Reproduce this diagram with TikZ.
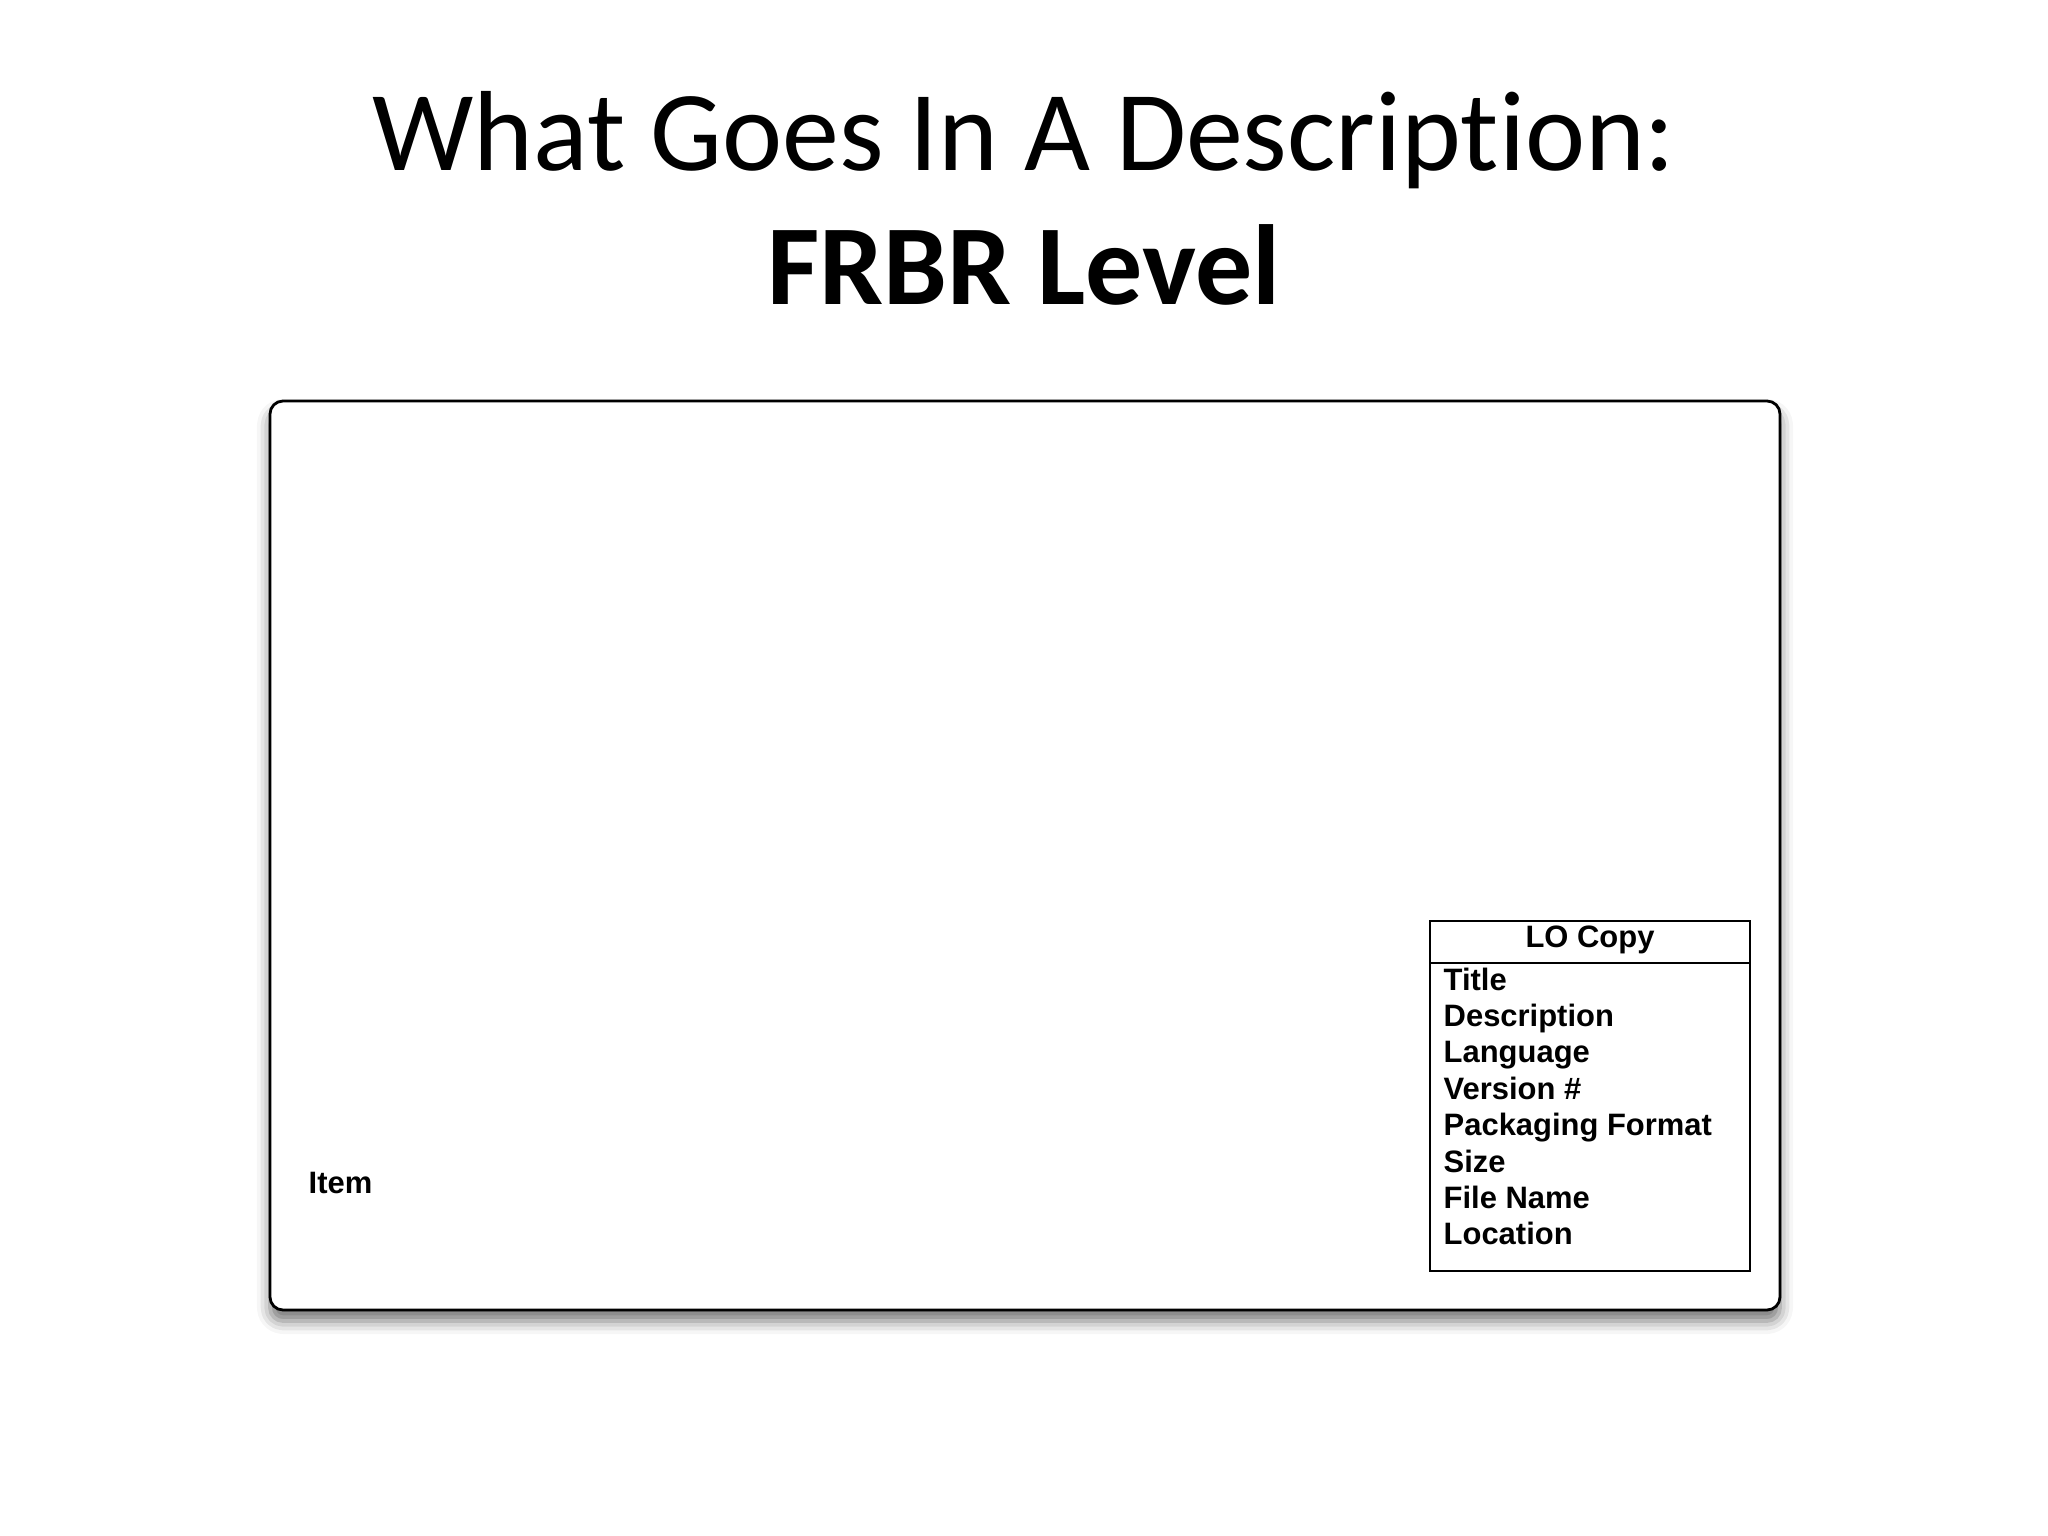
\documentclass[tikz,border=0pt]{standalone}
\usepackage{fontspec}
\setmainfont[Ligatures=CommonOff]{Carlito}
\newfontfamily\diagfont{Liberation Sans}
\usetikzlibrary{positioning,shadows.blur}

\begin{document}
\begin{tikzpicture}[x=0.01cm,y=-0.01cm,
    every node/.style={inner sep=0pt},
    heading/.style={anchor=base,font=\fontsize{32.4}{40}\selectfont},
    attr/.style={anchor=base west,font=\diagfont\bfseries\fontsize{8.8}{10}\selectfont}]
        \useasboundingbox (0,0) rectangle (2048,1536);
        % Title
        \node[heading] (title) at (1024,170) {What Goes In A Description:};
        \node[heading,font=\bfseries\fontsize{32.4}{40}\selectfont] (level) at (1024,304) {FRBR Level};
        % Frame
        \coordinate (F1) at (270,401);
        \coordinate (F2) at (1780,1310);
        \draw[line width=0.8pt,rounded corners=3.7pt,fill=white,
            blur shadow={shadow xshift=0pt,shadow yshift=-0.11cm,shadow blur radius=0.13cm,shadow opacity=55}]
            (F1) rectangle (F2);
        \node[attr] (item) at (308,1193) {Item};
        % LO Copy
        \coordinate (L1) at (1430,921);
        \coordinate (L2) at (1750,1271);
        \draw[line width=0.65pt] (L1) rectangle (L2);
        \draw[line width=0.65pt] (1430,963) -- (1750,963);
        \node[attr,anchor=base] (lohead) at (1590,947) {LO Copy};
        \foreach [count=\i] \t in {Title,Description,Language,Version \#,Packaging Format,Size,File Name,Location}
            \node[attr] (attr\i) at ({1443},{990+36.4*(\i-1)}) {\t};
    \end{tikzpicture}
\end{document}
